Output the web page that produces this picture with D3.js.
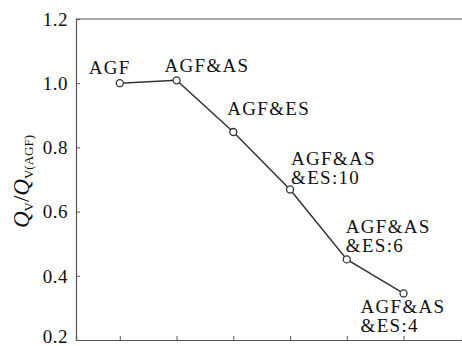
<!DOCTYPE html>
<html>
<head>
<meta charset="utf-8">
<script src="https://cdn.jsdelivr.net/npm/d3@7"></script>
<style>
  html, body { margin: 0; padding: 0; background: #fff; }
  svg { display: block; }
</style>
</head>
<body>
<div id="chart"></div>
<script>
// scheme index, ratio Qv / Qv(AGF), label lines
const positions = [1, 2, 3, 4, 5, 6];
const ratios = [1.0, 1.009, 0.848, 0.669, 0.451, 0.345];
const labels = [
  ["AGF"],
  ["AGF&AS"],
  ["AGF&ES"],
  ["AGF&AS", "&ES:10"],
  ["AGF&AS", "&ES:6"],
  ["AGF&AS", "&ES:4"]
];
const yTicks = [0.2, 0.4, 0.6, 0.8, 1.0, 1.2];

// first-baseline placement of each label relative to its point (px)
const labelOffsets = [
  { dx: -31, dy: -9 },
  { dx: -12, dy: -8 },
  { dx: -6, dy: -17 },
  { dx: 1, dy: -24 },
  { dx: -1, dy: -26 },
  { dx: -43, dy: 20 }
];

const W = 462, H = 346;
const margin = { top: 19, right: 0, bottom: 6, left: 76 };
const font = "Liberation Serif";
const fontSize = 19;
const lineGap = 19;

const svg = d3.select("#chart").append("svg")
  .attr("width", W).attr("height", H)
  .attr("font-family", font);

const x = d3.scaleLinear().domain([0.228, 7.03]).range([margin.left, W - margin.right]);
const y = d3.scaleLinear().domain([0.2, 1.2]).range([H - margin.bottom, margin.top]);

const axisColor = "#555";

// frame: top edge
svg.append("line")
  .attr("x1", x.range()[0]).attr("x2", x.range()[1])
  .attr("y1", y(1.2)).attr("y2", y(1.2))
  .attr("stroke", axisColor).attr("stroke-width", 1.2);

// y axis, ticks pointing inward
const yAxis = svg.append("g")
  .attr("transform", `translate(${margin.left},0)`)
  .call(d3.axisRight(y).tickValues(yTicks).tickSize(4).tickFormat(d3.format(".1f")))
  .attr("font-family", font);
yAxis.select(".domain").attr("stroke", axisColor).attr("stroke-width", 1.2);
yAxis.selectAll(".tick line").attr("stroke", axisColor);
yAxis.selectAll(".tick text")
  .attr("x", -8).attr("text-anchor", "end")
  .attr("font-family", font)
  .attr("font-size", fontSize).attr("fill", "#111")
  .attr("letter-spacing", 0.5)
  .attr("dy", "0.33em");
// keep the bottom tick label inside the picture
yAxis.selectAll(".tick").filter(d => d === 0.2).select("text").attr("dy", "0.15em");

// x axis, ticks pointing up, no labels
const xAxis = svg.append("g")
  .attr("transform", `translate(0,${y(0.2)})`)
  .call(d3.axisTop(x).tickValues(positions).tickSize(4).tickFormat(""));
xAxis.select(".domain").attr("stroke", axisColor).attr("stroke-width", 1.2);
xAxis.selectAll(".tick line").attr("stroke", axisColor);

// y label: Q_V / Q_V(AGF)
const yl = svg.append("text")
  .attr("transform", `translate(29,${(y(0.2) + y(1.2)) / 2 + 2}) rotate(-90)`)
  .attr("text-anchor", "middle")
  .attr("font-family", font)
  .attr("fill", "#111");
yl.append("tspan").attr("font-style", "italic").attr("font-size", 23).text("Q");
yl.append("tspan").attr("font-size", 13).attr("dy", 4).text("V");
yl.append("tspan").attr("font-size", 23).attr("dy", -4).text("/");
yl.append("tspan").attr("font-style", "italic").attr("font-size", 23).text("Q");
yl.append("tspan").attr("font-size", 13).attr("dy", 4).text("V(AGF)");

const data = positions.map((p, i) => ({ p, v: ratios[i], lines: labels[i], off: labelOffsets[i] }));

svg.append("path")
  .datum(data)
  .attr("fill", "none")
  .attr("stroke", "#333")
  .attr("stroke-width", 1.5)
  .attr("d", d3.line().x(d => x(d.p)).y(d => y(d.v)));

svg.selectAll("circle.pt")
  .data(data)
  .join("circle")
  .attr("class", "pt")
  .attr("cx", d => x(d.p)).attr("cy", d => y(d.v))
  .attr("r", 3.5)
  .attr("fill", "#fff")
  .attr("stroke", "#333")
  .attr("stroke-width", 1.3);

const lbl = svg.selectAll("text.lbl")
  .data(data)
  .join("text")
  .attr("class", "lbl")
  .attr("font-family", font)
  .attr("font-size", fontSize)
  .attr("letter-spacing", 1.3)
  .attr("fill", "#111")
  .attr("x", d => x(d.p) + d.off.dx)
  .attr("y", d => y(d.v) + d.off.dy);
lbl.selectAll("tspan")
  .data(d => d.lines.map(t => ({ t, x: x(d.p) + d.off.dx })))
  .join("tspan")
  .attr("x", d => d.x)
  .attr("dy", (d, i) => (i === 0 ? 0 : lineGap))
  .text(d => d.t);
</script>
</body>
</html>
